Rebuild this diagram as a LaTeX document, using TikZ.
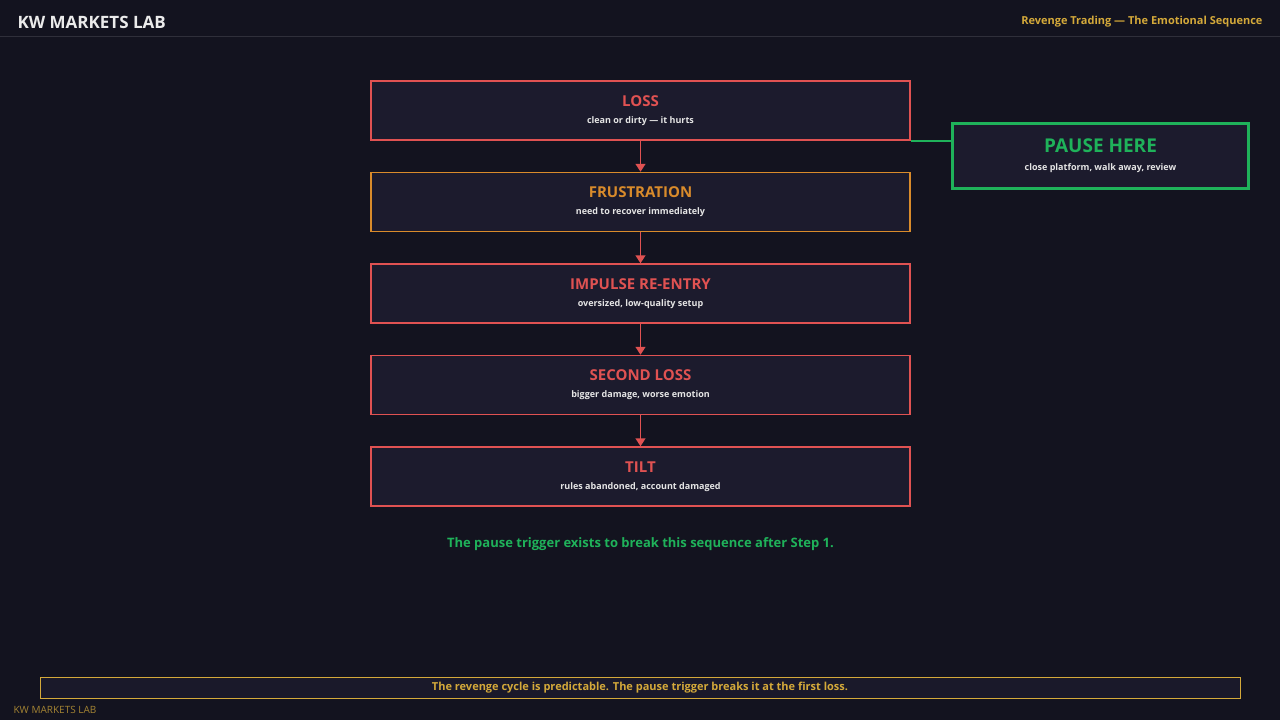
\documentclass[tikz,border=0pt]{standalone}
\usepackage{fontspec}
\setmainfont{Open Sans}
\usetikzlibrary{positioning, arrows.meta}
\definecolor{bgc}{HTML}{13131F}
\definecolor{boxc}{HTML}{1C1B2D}
\definecolor{redc}{HTML}{E05252}
\definecolor{orc}{HTML}{D98B2B}
\definecolor{grc}{HTML}{1FB25A}
\definecolor{goldc}{HTML}{D4A93A}
\tikzset{
  stepbox/.style={draw=redc, fill=boxc, line width=1.5pt, minimum width=539pt, minimum height=59pt, inner sep=0pt},
  flow/.style={draw=redc, line width=1.5pt, -{Triangle[length=8pt,width=10pt]}},
}
\newcommand{\steptext}[3]{{\fontsize{15}{18}\bfseries\color{#1}#2}\\[5pt]{\fontsize{9}{11}\bfseries\color{white!90!black}#3}}
\begin{document}
\begin{tikzpicture}[x=1pt, y=-1pt]
\fill[bgc] (0,0) rectangle (1280,720);
\useasboundingbox (0,0) rectangle (1280,720);
\draw[white!12!bgc] (0,36) -- (1280,36);
\node[anchor=west, font=\fontsize{17}{20}\bfseries, text=white!92!black] (brand) at (14,22) {KW MARKETS LAB};
\node[anchor=east, font=\fontsize{11}{13}\bfseries, text=goldc] (subtitle) at (1266,22) {Revenge Trading — The Emotional Sequence};

\node[stepbox, align=center] (loss) at (640.5,110.5) {\steptext{redc}{LOSS}{clean or dirty — it hurts}};
\node[stepbox, draw=orc, align=center, below=31pt of loss] (frust) {\steptext{orc}{FRUSTRATION}{need to recover immediately}};
\node[stepbox, align=center, below=31pt of frust] (impulse) {\steptext{redc}{IMPULSE RE-ENTRY}{oversized, low-quality setup}};
\node[stepbox, align=center, below=31pt of impulse] (second) {\steptext{redc}{SECOND LOSS}{bigger damage, worse emotion}};
\node[stepbox, align=center, below=31pt of second] (tilt) {\steptext{redc}{TILT}{rules abandoned, account damaged}};
\foreach \a/\b in {loss/frust, frust/impulse, impulse/second, second/tilt}
  \draw[flow] (\a) -- (\b);

\node[draw=grc, fill=boxc, line width=3pt, minimum width=296pt, minimum height=65pt, align=center] (pause) at (1100.5,155.5)
  {{\fontsize{19}{22}\bfseries\color{grc}PAUSE HERE}\\[6pt]{\fontsize{9}{11}\bfseries\color{white!90!black}close platform, walk away, review}};
\coordinate (tap) at (loss.south east);
\draw[grc, line width=1.5pt] (tap) -- (tap -| pause.west);

\node[font=\fontsize{13}{15}\bfseries, text=grc, below=27pt of tilt] (note) {The pause trigger exists to break this sequence after Step 1.};

\node[draw=goldc, fill=boxc!80!bgc, line width=1pt, minimum width=1200pt, minimum height=21pt, font=\fontsize{11}{13}\bfseries, text=goldc] (footer) at (640,687.5)
  {The revenge cycle is predictable. The pause trigger breaks it at the first loss.};
\node[anchor=west, font=\fontsize{10}{12}, text=goldc!75!bgc] (mark) at (10,710) {KW MARKETS LAB};
\end{tikzpicture}
\end{document}
